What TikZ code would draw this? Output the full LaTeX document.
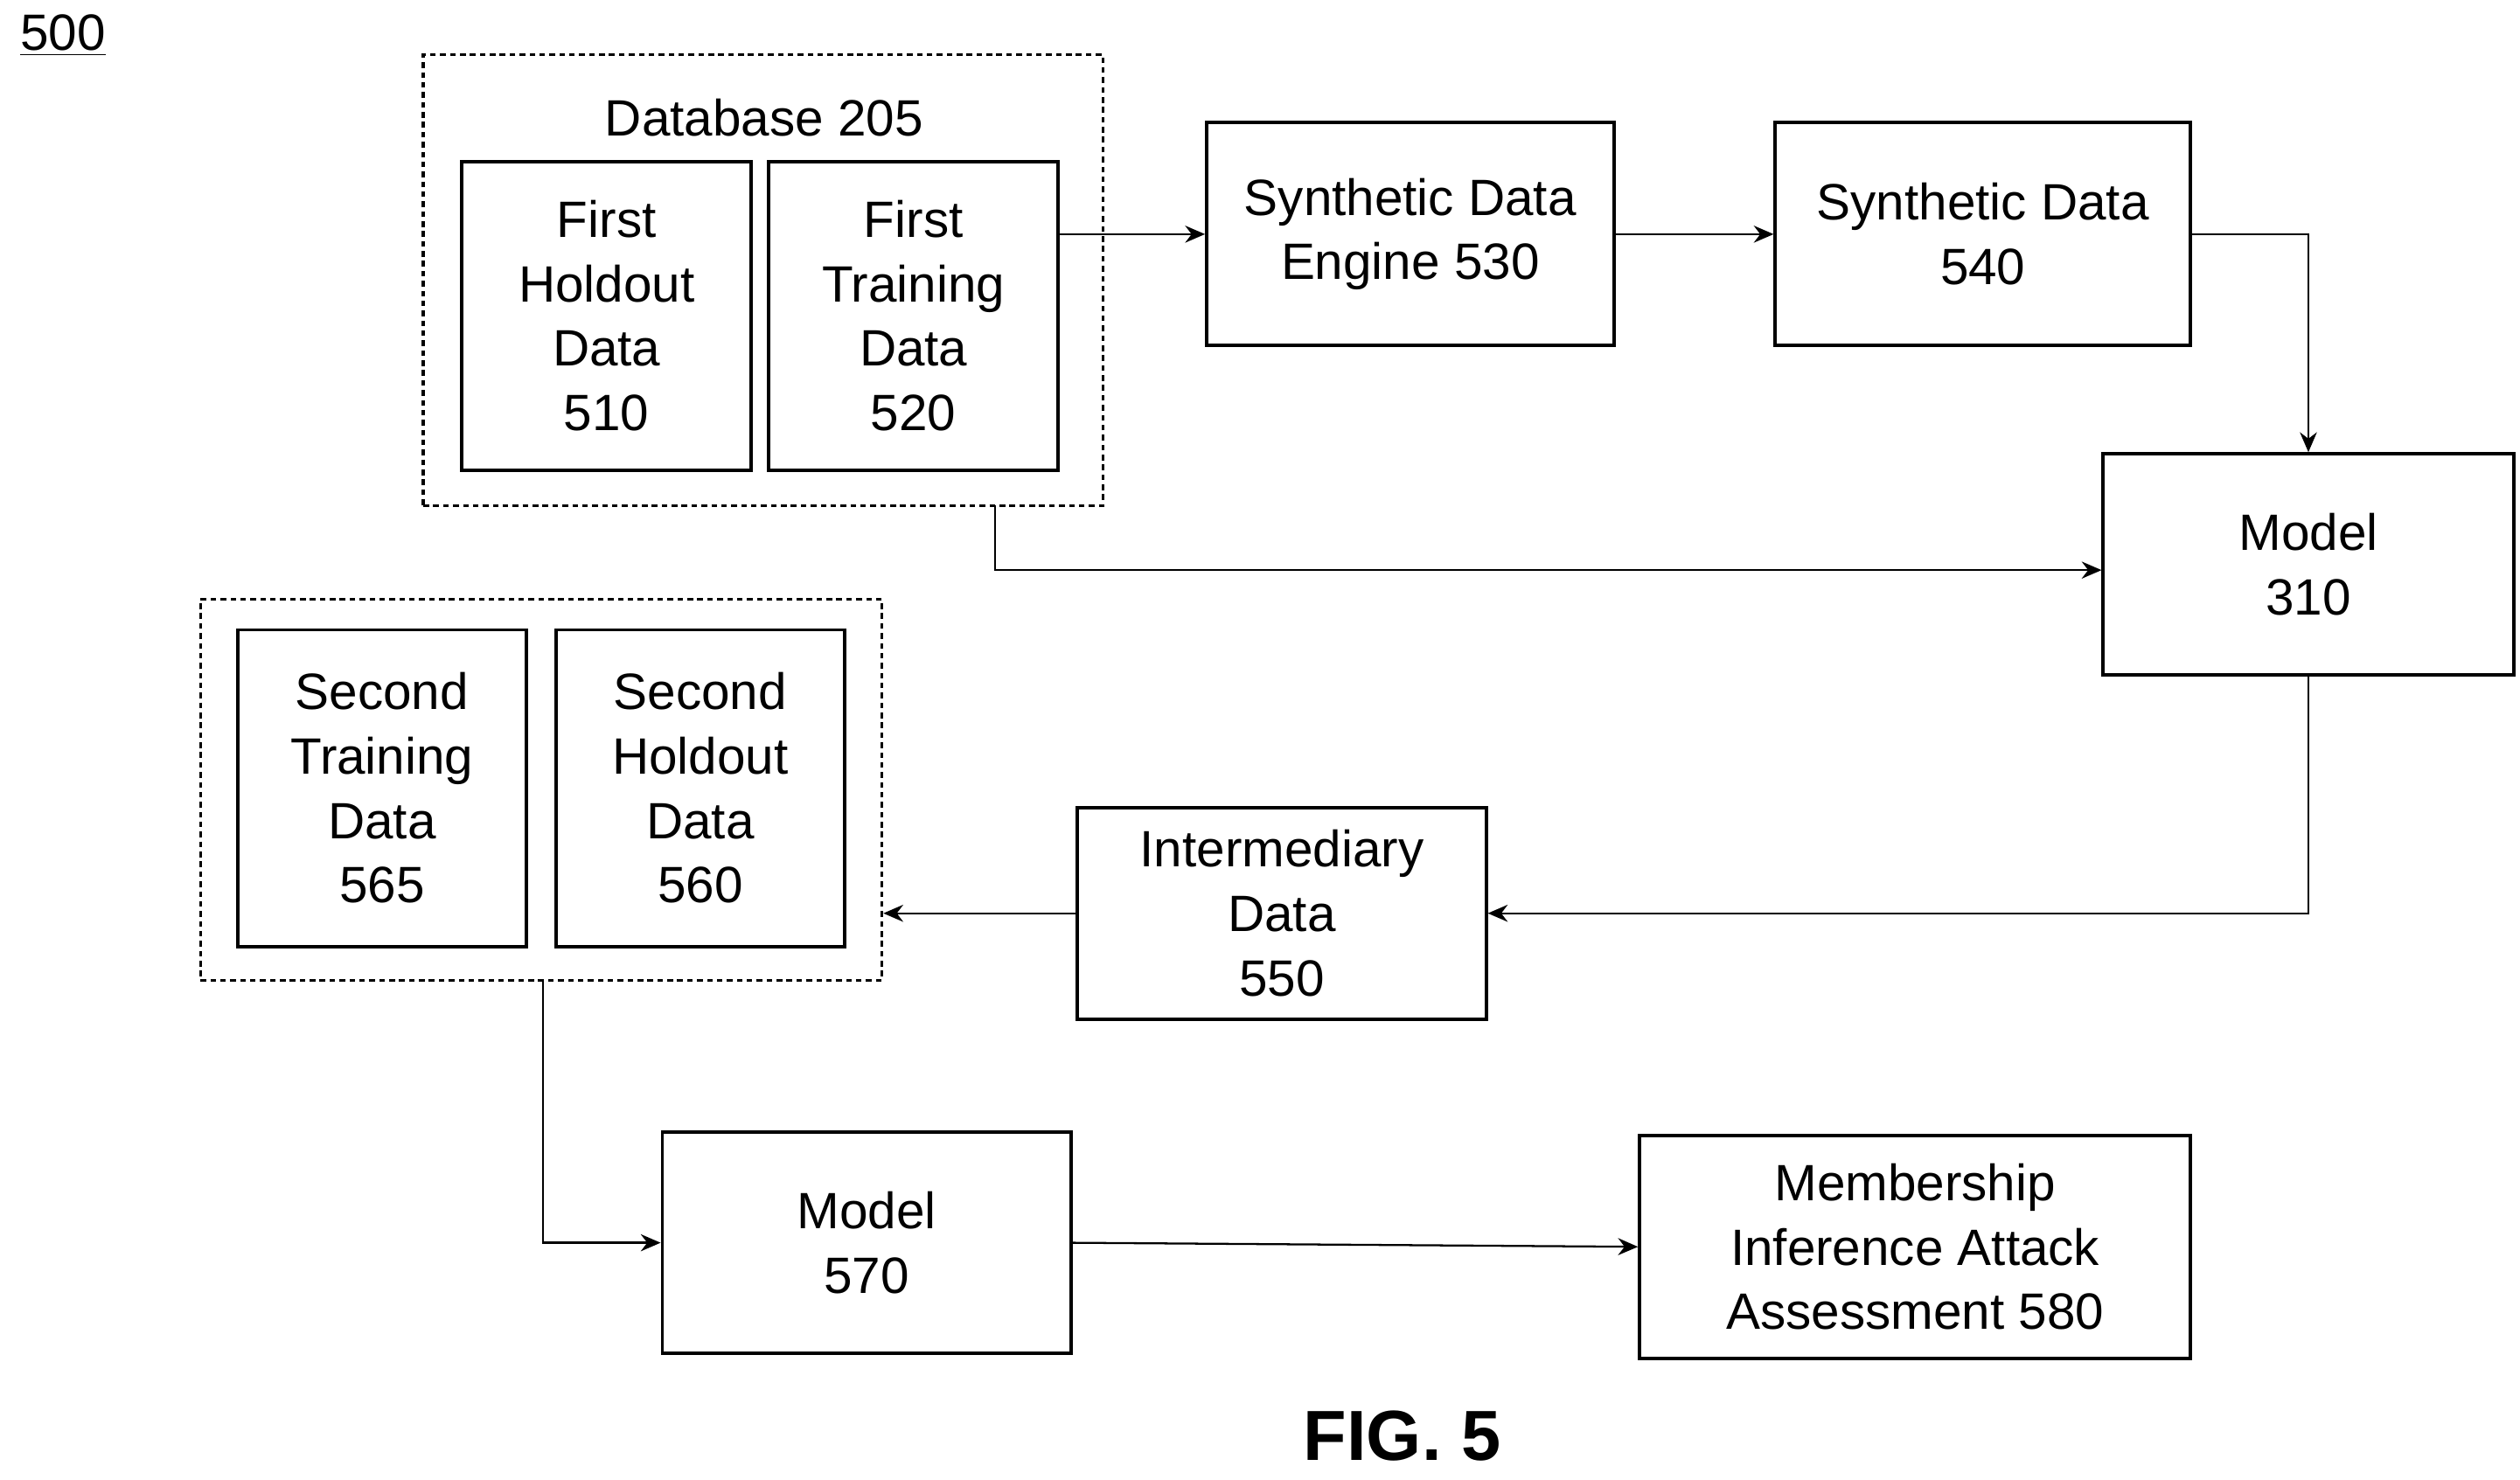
\documentclass[tikz,border=0pt]{standalone}
\usepackage{fontspec}
\setmainfont{Liberation Sans}
\usetikzlibrary{arrows.meta}
\begin{document}
\begin{tikzpicture}[x=0.02cm,y=-0.02cm,
  box/.style={draw,line width=1.2pt,align=center,inner sep=0pt,font=\fontsize{18}{22.7}\selectfont},
  grp/.style={draw,line width=1pt,dash pattern=on 2pt off 1.5pt},
  arr/.style={line width=0.7pt,-{Stealth[length=7pt,width=6pt]}}]
\useasboundingbox (0,0) rectangle (1560,916);
\node[grp,minimum width=8.42cm,minimum height=5.58cm] (db) at (472.5,173.5) {};
\node[font=\fontsize{18}{22.7}\selectfont] (dbl) at (473,73) {Database 205};
\node[box,minimum width=3.58cm,minimum height=3.82cm] (h1) at (375.5,195.5) {First\\Holdout\\Data\\510};
\node[box,minimum width=3.58cm,minimum height=3.82cm] (t1) at (565.5,195.5) {First\\Training\\Data\\520};
\node[box,minimum width=5.04cm,minimum height=2.76cm] (e) at (873,145) {Synthetic Data\\Engine 530};
\node[box,minimum width=5.14cm,minimum height=2.76cm] (sd) at (1227.5,145) {Synthetic Data\\540};
\node[box,minimum width=5.08cm,minimum height=2.74cm] (m1) at (1429,349.5) {Model\\310};
\node[grp,minimum width=8.44cm,minimum height=4.72cm] (db2) at (335,489) {};
\node[box,minimum width=3.58cm,minimum height=3.92cm] (t2) at (236.5,488) {Second\\Training\\Data\\565};
\node[box,minimum width=3.58cm,minimum height=3.92cm] (h2) at (433.5,488) {Second\\Holdout\\Data\\560};
\node[box,minimum width=5.06cm,minimum height=2.62cm] (im) at (793.5,565.5) {Intermediary\\Data\\550};
\node[box,minimum width=5.06cm,minimum height=2.74cm] (m2) at (536.5,769.5) {Model\\570};
\node[box,minimum width=6.82cm,minimum height=2.76cm] (mia) at (1185.5,772) {Membership\\Inference Attack\\Assessment 580};
\node[font=\fontsize{25}{28}\selectfont\bfseries] (fig) at (868,889) {FIG. 5};
\node[font=\fontsize{18}{20}\selectfont] (n500) at (39,22) {\underline{500}};
\coordinate (c1) at (616,313);
\coordinate (c2) at (336,607);
\draw[arr] (e.west -| t1.east) -- (e.west);
\draw[arr] (e.east) -- (sd.west);
\draw[arr] (sd.east) -| (m1.north);
\draw[arr] (c1) |- (m1.west |- 0,353);
\draw[arr] (m1.south) |- (im.east);
\draw[arr] (im.west) -- (db2.east |- im.west);
\draw[arr] (c2) |- (m2.west);
\draw[arr] (m2.east) -- (mia.west);
\end{tikzpicture}
\end{document}
